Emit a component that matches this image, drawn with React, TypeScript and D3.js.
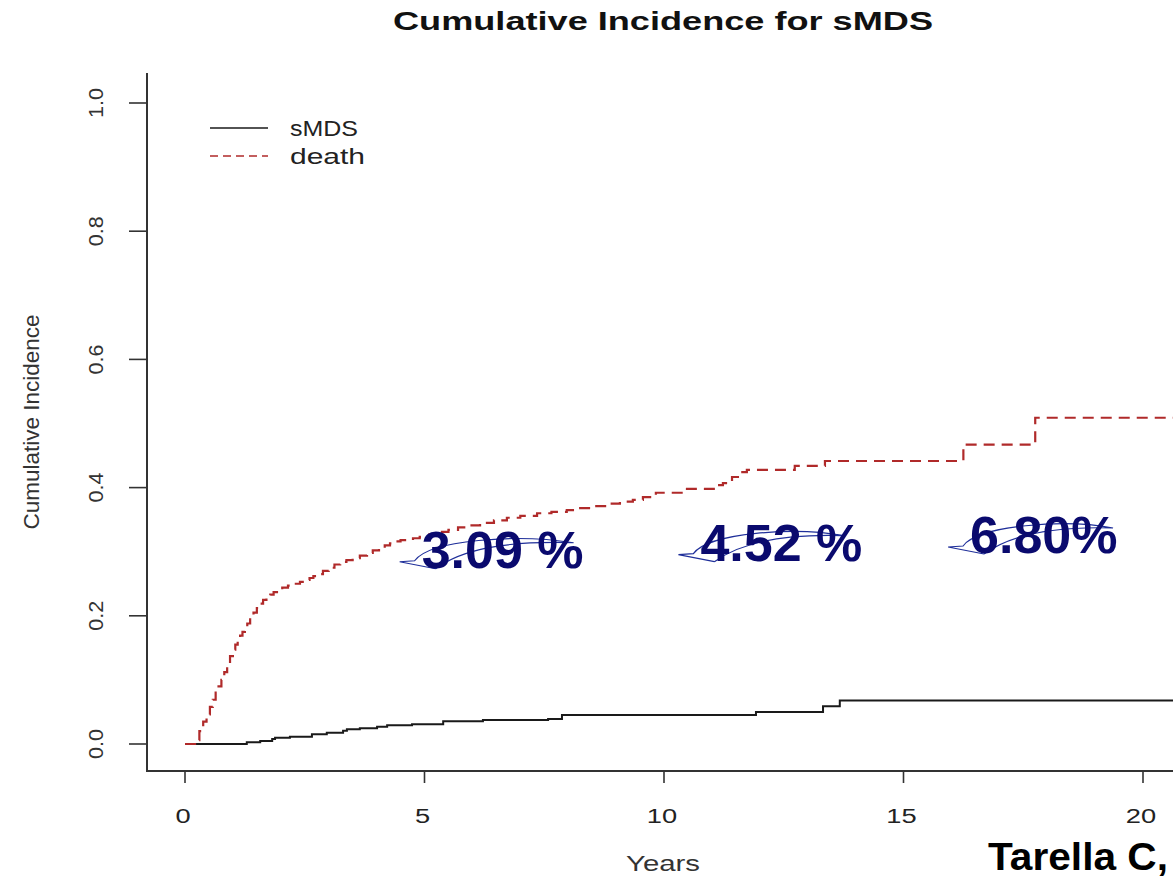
import React from "react";
import * as d3 from "d3";

// Cumulative incidence estimates (step functions), time in years
const smdsTimes = [0, 1.29, 1.57, 1.82, 1.88, 2.19, 2.65, 2.96, 3.3, 3.38, 3.65, 4.01, 4.22, 4.74, 5.39, 6.22, 7.58, 7.87, 11.92, 13.32, 13.67, 21];
const smdsValues = [0, 0.0027, 0.0047, 0.0078, 0.0098, 0.0114, 0.0151, 0.0176, 0.0207, 0.0229, 0.0245, 0.027, 0.0292, 0.0309, 0.0355, 0.0374, 0.039, 0.0452, 0.05, 0.059, 0.068, 0.068];

const deathTimes = [0, 0.12, 0.21, 0.3, 0.38, 0.45, 0.52, 0.58, 0.64, 0.7, 0.76, 0.82, 0.88, 0.94, 1.0, 1.05, 1.1, 1.15, 1.2, 1.25, 1.3, 1.36, 1.43, 1.5, 1.56, 1.63, 1.7, 1.78, 1.85, 1.92, 2.03, 2.15, 2.28, 2.4, 2.5, 2.6, 2.68, 2.76, 2.88, 3.0, 3.12, 3.24, 3.37, 3.5, 3.65, 3.8, 3.92, 4.05, 4.17, 4.28, 4.4, 4.5, 4.63, 4.76, 4.9, 5.1, 5.32, 5.5, 5.7, 5.93, 6.16, 6.45, 6.72, 7.0, 7.35, 7.65, 7.97, 8.25, 8.52, 8.8, 9.08, 9.35, 9.56, 9.83, 10.4, 11.07, 11.23, 11.42, 11.59, 11.73, 12.73, 13.36, 16.25, 17.75, 21];
const deathValues = [0, 0, 0.006, 0.02, 0.035, 0.046, 0.058, 0.069, 0.08, 0.09, 0.1, 0.112, 0.125, 0.137, 0.147, 0.155, 0.162, 0.169, 0.175, 0.182, 0.188, 0.198, 0.205, 0.212, 0.219, 0.225, 0.229, 0.233, 0.237, 0.24, 0.244, 0.247, 0.25, 0.253, 0.256, 0.259, 0.262, 0.265, 0.27, 0.275, 0.28, 0.284, 0.287, 0.29, 0.294, 0.298, 0.302, 0.306, 0.31, 0.313, 0.316, 0.318, 0.32, 0.321, 0.323, 0.327, 0.331, 0.334, 0.338, 0.341, 0.345, 0.349, 0.353, 0.356, 0.36, 0.362, 0.365, 0.368, 0.371, 0.375, 0.378, 0.381, 0.385, 0.392, 0.398, 0.404, 0.407, 0.4165, 0.424, 0.4275, 0.434, 0.4415, 0.467, 0.509, 0.509];

const xTicks = [0, 5, 10, 15, 20];
const yTicks = [0, 0.2, 0.4, 0.6, 0.8, 1.0];

// Percent callouts: sMDS incidence at 5, 10 and 15 years
const calloutLabels = ["3.09 %", "4.52 %", "6.80%"];
const calloutX = [4.94, 10.76, 16.39];
const calloutY = [0.275, 0.286, 0.298];

const legendNames = ["sMDS", "death"];
const legendWidths = [68, 75];

const W = 1173;
const H = 878;
const FONT = "'Liberation Sans', Arial, Helvetica, sans-serif";

export default function App() {
  const x = d3.scaleLinear().domain([0, 20]).range([185, 1143]);
  const y = d3.scaleLinear().domain([0, 1]).range([744, 103]);

  const step = d3
    .line<[number, number]>()
    .x((d) => x(d[0]))
    .y((d) => y(d[1]))
    .curve(d3.curveStepAfter);

  const smdsPath = step(smdsTimes.map((t, i) => [t, smdsValues[i]] as [number, number])) || "";
  const deathPath = step(deathTimes.map((t, i) => [t, deathValues[i]] as [number, number])) || "";

  const axisLeft = 147;
  const axisBottom = 771;
  const red = "#b02a2a";
  const navy = "#0a0a6e";

  return (
    <div style={{ position: "absolute", left: 0, top: 0 }}>
      <svg width={W} height={H} style={{ display: "block", background: "#fff" }}>
        {/* title */}
        <text
          x={663}
          y={30}
          textAnchor="middle"
          fontFamily={FONT}
          fontWeight="bold"
          fontSize={25}
          textLength={540}
          lengthAdjust="spacingAndGlyphs"
          fill="#111"
        >
          Cumulative Incidence for sMDS
        </text>

        {/* L-shaped frame */}
        <path
          d={`M${axisLeft},73 L${axisLeft},${axisBottom} L${W},${axisBottom}`}
          fill="none"
          stroke="#333"
          strokeWidth={2}
        />

        {/* y ticks */}
        {yTicks.map((t) => (
          <g key={"y" + t}>
            <line x1={axisLeft - 18} x2={axisLeft} y1={y(t)} y2={y(t)} stroke="#333" strokeWidth={1.6} />
            <text
              transform={`translate(${103},${y(t)}) rotate(-90)`}
              textAnchor="middle"
              fontFamily={FONT}
              fontSize={21}
              textLength={30}
              lengthAdjust="spacingAndGlyphs"
              fill="#333"
            >
              {t.toFixed(1)}
            </text>
          </g>
        ))}

        {/* x ticks */}
        {xTicks.map((t) => (
          <g key={"x" + t}>
            <line x1={x(t)} x2={x(t)} y1={axisBottom} y2={axisBottom + 12} stroke="#333" strokeWidth={1.6} />
            <text
              transform={`translate(${x(t) - 2},${823}) scale(1.3,1)`}
              textAnchor="middle"
              fontFamily={FONT}
              fontSize={21}
              fill="#222"
            >
              {t}
            </text>
          </g>
        ))}

        {/* axis titles */}
        <text
          transform={`translate(${39},${422}) rotate(-90)`}
          textAnchor="middle"
          fontFamily={FONT}
          fontSize={22}
          textLength={215}
          lengthAdjust="spacingAndGlyphs"
          fill="#333"
        >
          Cumulative Incidence
        </text>
        <text
          x={663}
          y={871}
          textAnchor="middle"
          fontFamily={FONT}
          fontSize={22}
          textLength={74}
          lengthAdjust="spacingAndGlyphs"
          fill="#333"
        >
          Years
        </text>

        {/* curves */}
        <path d={smdsPath} fill="none" stroke="#1a1a1a" strokeWidth={2} />
        <path d={deathPath} fill="none" stroke={red} strokeWidth={2.2} strokeDasharray="11 7" />

        {/* legend */}
        <line x1={210} x2={268} y1={128} y2={128} stroke="#1a1a1a" strokeWidth={1.6} />
        <line x1={210} x2={268} y1={156} y2={156} stroke={red} strokeWidth={1.6} strokeDasharray="8 5" />
        {legendNames.map((n, i) => (
          <text
            key={n}
            x={290}
            y={136 + i * 28}
            fontFamily={FONT}
            fontSize={22}
            textLength={legendWidths[i]}
            lengthAdjust="spacingAndGlyphs"
            fill="#222"
          >
            {n}
          </text>
        ))}

        {/* percent callouts */}
        {calloutLabels.map((lab, i) => {
          const x0 = x(calloutX[i]);
          const y0 = y(calloutY[i]);
          const endX = i === 0 ? 152 : 143;
          const arc =
            `M${x0 - 22},${y0 - 6} L${x0 + 14},${y0 + 1} ` +
            `M${x0 - 22},${y0 - 6} L${x0 - 7},${y0 - 7} ` +
            `C${x0 + 8},${y0 - 28} ${x0 + 95},${y0 - 34} ${x0 + endX},${y0 - 25} ` +
            `M${x0 + 14},${y0 + 1} C${x0 + 40},${y0 - 18} ${x0 + 80},${y0 - 27} ${x0 + endX},${y0 - 25}`;
          return (
            <g key={lab}>
              <path d={arc} fill="none" stroke="#1f2f9a" strokeWidth={1.2} />
              <text x={x0} y={y0} fontFamily={FONT} fontWeight="bold" fontSize={52} fill={navy}>
                {lab}
              </text>
            </g>
          );
        })}

        {/* citation */}
        <text
          x={988}
          y={870}
          fontFamily={FONT}
          fontWeight="bold"
          fontSize={38}
          textLength={180}
          lengthAdjust="spacingAndGlyphs"
          fill="#000"
        >
          Tarella C,
        </text>
      </svg>
    </div>
  );
}
